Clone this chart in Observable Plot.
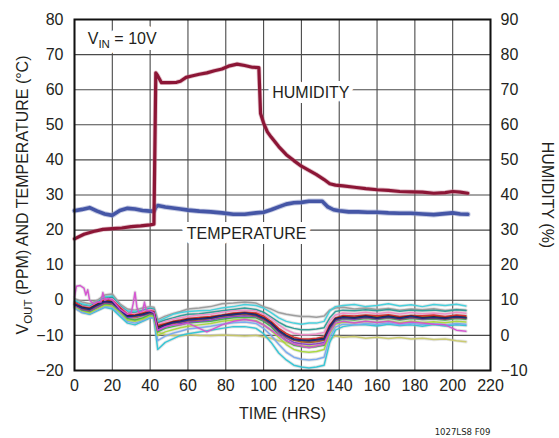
<!DOCTYPE html>
<html>
<head>
<meta charset="utf-8">
<script src="https://cdn.jsdelivr.net/npm/d3@7"></script>
<script src="https://cdn.jsdelivr.net/npm/@observablehq/plot@0.6"></script>
<style>
  html, body { margin: 0; padding: 0; background: #fff; }
  #chart { width: 559px; height: 438px; }
</style>
</head>
<body>
<div id="chart"></div>
<script>
// ---- axis ticks ----
const xTicks = [0, 20, 40, 60, 80, 100, 120, 140, 160, 180, 200, 220];
const yTicks = [-20, -10, 0, 10, 20, 30, 40, 50, 60, 70, 80];
const humidityOffset = 10; // right axis (%) = left axis value + 10

// ---- humidity (%) ----
const humT = [0,5,10,15,20,25,30,35,40,42,43,44,46,50,54,56,59,62,66,70,74,78,82,86,90,94,97.5,98.4,100,102,104,108,112,116,120,124,128,132,135,138,142,148,154,160,166,172,178,184,190,196,200,204,208];
const humV = [27.5,28.8,29.6,30.2,30.4,30.6,31,31.2,31.5,31.7,74.8,74,72,72,72.1,72.4,73.5,73.9,74.4,74.8,75.4,75.9,76.8,77.3,76.9,76.4,76.3,63.2,60.5,58,56.5,53.8,51.5,49.8,48.2,47,45.8,44.4,43.2,42.8,42.6,42.2,41.8,41.5,41.3,41,40.9,40.8,40.5,40.7,41,40.8,40.5];

// ---- temperature (°C) ----
const tempT = [0,4,8,12,16,20,24,28,32,36,40,42,43,44,48,52,56,60,66,72,78,84,90,96,100,104,108,112,116,120,124,128,131,134,137,140,145,150,155,160,166,172,178,184,190,196,200,204,208];
const tempV = [25.5,25.9,26.4,25.4,24.6,24.2,25.6,26.2,26,25.6,25.4,25.4,26.5,27,26.6,26.3,26,25.7,25.4,25.2,24.9,24.5,24.5,24.9,25.1,25.8,26.6,27.4,27.8,27.9,28.2,28.2,28.2,26.6,25.8,25.5,25.2,25.2,25.1,25.1,24.9,24.8,24.8,24.6,24.4,24.7,24.9,24.6,24.5];

// ---- VOUT drift (ppm), individual units ----
const T = [0,4,8,12,16,20,24,28,32,36,40,42,44,48,52,56,60,66,72,78,84,90,96,100,104,108,112,116,120,124,128,132,135,138,142,148,154,160,166,172,178,184,190,196,202,207];
const unitGray   = [0.5,-0.5,-1,0,1.5,1.8,-1,-2.5,-2.8,-2.2,-1.8,-2,-5.5,-4.5,-3.8,-3.2,-2.5,-2.2,-1.8,-1,-0.8,-0.5,-0.8,-1.8,-2.5,-3.5,-4,-4.3,-4.6,-4.6,-4.8,-4.5,-2.8,-2.2,-2,-2.5,-2.2,-2.6,-2.3,-2.8,-2.5,-2.7,-2.4,-2.9,-2.6,-2.8];
const unitCyanHi = [0,-1,-1.5,-0.5,1,1.2,-1.5,-3,-3.2,-2.8,-2.2,-2.5,-6,-5,-4,-3.5,-3.2,-3,-2.8,-2.2,-1.8,-1.2,-1.5,-2.2,-3.5,-5,-6,-6.5,-6.8,-6.5,-6.5,-6,-3,-1.8,-1.5,-1.2,-1.8,-1.5,-1,-1.6,-1.3,-1.8,-1.2,-1.5,-1.1,-1.6];
const unitCyanLo = [-2,-3.5,-4,-3,-2,-2.5,-4.5,-6.5,-7,-6,-5,-5,-14,-12,-11,-10,-9.5,-9,-8.5,-8,-7.5,-7.5,-8,-9.5,-12,-15,-17,-18.5,-19,-19.3,-19,-18.5,-12,-8.5,-7.5,-7,-7,-7.3,-6.8,-7.2,-7,-7.4,-6.9,-7.3,-7,-7.2];
const unitYellow = [-1.5,-2.5,-3,-2,-1,-1.5,-3.5,-5,-5.5,-5,-4,-4,-9,-9.8,-10,-10.2,-9.8,-10,-10.1,-9.9,-10,-10.2,-10,-10.4,-10.8,-11.5,-12,-12.5,-12.8,-13,-12.8,-12.5,-11,-10.2,-10.5,-10.3,-10.8,-10.5,-10.9,-10.6,-11,-10.8,-11.2,-11,-11.5,-11.8];
const unitLtBlue = [-2.2,-3.4,-3.8,-2.8,-1.8,-2,-3.8,-6,-6.5,-5.8,-4.8,-5,-11.5,-10.2,-9.4,-8.8,-8.2,-7.8,-7.4,-6.8,-6.4,-6.2,-6.6,-8,-10,-12.5,-14.8,-16.2,-16.8,-17,-16.8,-16.2,-10.5,-7.6,-6.8,-7,-6.6,-6.9,-6.5,-7,-6.6,-6.9,-6.7,-7,-6.6,-6.8];
const unitLime   = [-1.8,-3,-3.6,-2.4,-1.4,-1.6,-3.4,-5.6,-6,-5.4,-4.4,-4.6,-10,-9,-8.4,-7.8,-7.4,-7,-6.6,-6,-5.6,-5.4,-5.8,-7,-8.6,-10.6,-12.6,-14,-14.6,-14.8,-14.6,-14,-9.4,-6.8,-6.2,-6.4,-6,-6.3,-5.9,-6.4,-6,-6.3,-6.1,-6.4,-6,-6.2];
const unitTeal   = [-0.4,-1.4,-1.8,-0.6,0.6,0.8,-1.6,-3.4,-3.6,-3,-2.4,-2.6,-6.4,-5.6,-5,-4.4,-4,-3.8,-3.4,-3,-2.6,-2.2,-2.6,-3.4,-4.8,-6.2,-7.4,-8,-8.4,-8.4,-8.2,-7.8,-5,-3.2,-2.8,-3,-2.7,-3,-2.6,-3.1,-2.8,-3,-2.8,-3.1,-2.7,-2.9];
const unitPink   = [-0.6,-1.6,-2,-0.8,0.4,0.4,-1.8,-3.6,-3.8,-3.2,-2.6,-2.8,-6.8,-6,-5.4,-5,-4.6,-4.2,-4,-3.4,-3,-2.8,-3,-4,-5.2,-7,-8.4,-9.4,-9.8,-9.8,-9.6,-9.2,-6,-4.2,-3.6,-3.8,-3.4,-3.8,-3.4,-3.9,-3.5,-3.8,-3.6,-3.9,-3.4,-3.7];
const unitGreen  = [-1.2,-2.8,-3.2,-2,-1,-1.2,-3,-5.2,-5.6,-5,-4,-4.2,-9,-8,-7.5,-7,-6.5,-6.2,-6,-5.4,-5,-4.8,-5,-6,-7.5,-9.8,-11.5,-12.8,-13.2,-13.4,-13.2,-12.8,-8.5,-6,-5.4,-5.6,-5.2,-5.5,-5.1,-5.6,-5.2,-5.5,-5.3,-5.6,-5.2,-5.4];
const unitPurple = [-1.5,-2.6,-3,-2,-0.8,-1,-2.8,-4.8,-5,-4.4,-3.8,-3.8,-8.6,-7.6,-7,-6.6,-6.2,-6,-5.6,-5,-4.6,-4.4,-4.6,-5.6,-7,-9.2,-10.8,-12,-12.4,-12.6,-12.4,-12,-8,-5.8,-5.2,-5.4,-5,-5.3,-4.9,-5.4,-5,-5.3,-5.1,-5.4,-5,-5.2];
const unitOrange = [-0.8,-2,-2.4,-1.2,0,-0.2,-2.2,-4.2,-4.8,-4,-3.2,-3.4,-7.8,-6.8,-6.2,-5.8,-5.4,-5,-4.8,-4.4,-4,-3.6,-3.8,-4.8,-6.4,-8.4,-9.8,-11,-11.8,-11.8,-11.6,-11.2,-7.4,-5.2,-4.6,-4.8,-4.4,-4.7,-4.3,-4.8,-4.4,-4.7,-4.5,-4.9,-4.4,-4.6];
const unitBrown  = [-1,-2.4,-2.8,-1.6,-0.6,-0.8,-2.4,-4.4,-4.6,-4.2,-3.6,-3.6,-8,-7.2,-6.6,-6.2,-5.8,-5.6,-5.2,-4.6,-4.2,-4,-4.4,-5.4,-6.8,-8.8,-10.4,-11.4,-11.8,-12,-11.8,-11.4,-7.8,-5.6,-5,-5.2,-4.8,-5.2,-4.8,-5.3,-4.8,-5.2,-5,-5.3,-4.9,-5.1];
const unitRed    = [-0.5,-1.8,-2.2,-1,0.2,0,-2,-4,-4.2,-3.6,-3,-3.2,-7.2,-6.6,-6,-5.6,-5.2,-4.9,-4.6,-4.2,-3.6,-3.4,-3.6,-4.5,-6,-8,-9.4,-10.5,-11,-11,-10.8,-10.4,-7,-5,-4.3,-4.5,-4.2,-4.4,-4.1,-4.6,-4.3,-4.4,-4.2,-4.6,-4.2,-4.4];
const unitBlack  = [-1.2,-2,-2.4,-1.2,-0.2,-0.4,-2.4,-4.4,-4.3,-3.9,-3.3,-3.4,-7.6,-6.9,-6.2,-5.9,-5.4,-5.2,-4.9,-4.3,-3.9,-3.6,-4,-5,-6.4,-8.5,-10,-11,-11.3,-11.4,-11.2,-10.8,-7.4,-5.2,-4.7,-4.9,-4.5,-4.9,-4.5,-5,-4.5,-4.9,-4.7,-5,-4.6,-4.8];
const unitNavy   = [-1,-2.2,-2.6,-1.4,-0.4,-0.6,-2.6,-4.6,-4.4,-4.1,-3.4,-3.6,-8.2,-7.1,-6.4,-6.1,-5.6,-5.3,-5.1,-4.4,-4.1,-3.7,-4.2,-5.1,-6.6,-8.7,-10.1,-11.2,-11.4,-11.6,-11.3,-11.1,-7.6,-5.4,-4.9,-5.1,-4.7,-5.1,-4.7,-5.2,-4.6,-5.1,-4.9,-5.2,-4.7,-5];
// one unit with its own, denser time samples (spiky start)
const magentaT = [0,1,3,5,6,7,8,10,12,14,15,16,18,20,24,28,30,31,32,33,34,36,37,38,40,42,44,48,52,56,60,66,70,74,78,84,90,96,100,104,108,112,116,120,124,128,132,135,138,142,148,154,160,166,172,178,184,190,196,202,207];
const magentaV = [1,4,4.2,3.5,1.5,3,0,-1,-0.5,-0.5,2.2,0,0.5,0,-2.5,-4,-3.5,-1,2.3,-2,-3.5,-3,-0.5,-3,-3,-3.5,-8.5,-7.5,-7,-7,-6.5,-8,-9,-8,-7,-6,-5.5,-6,-7,-8.5,-10,-11.5,-12.5,-13,-13.5,-13,-12.5,-9,-6.5,-6,-6.5,-6,-6.3,-6,-6.6,-6.2,-6.5,-6.8,-7,-8.5,-8.8];

const unitSeries = [
  ["#c9c96a", unitYellow], ["#2fc4d4", unitCyanLo], ["#9a9a9a", unitGray], ["#3fd0dc", unitCyanHi],
  ["#78a8ee", unitLtBlue], ["#a8d83a", unitLime], ["#2a9a94", unitTeal], ["#f08cc8", unitPink],
  ["#40b048", unitGreen], ["#8a3cc8", unitPurple], ["#f09020", unitOrange], ["#9a5a2a", unitBrown],
  ["#d8282c", unitRed], ["#262626", unitBlack], ["#1e2a86", unitNavy]
];

// ---- annotations ----
const labels = [
  {x: 125, y: 59, text: "HUMIDITY"},
  {x: 91, y: 19, text: "TEMPERATURE"}
];
const vinLabel = [{x: 7, y: 74.6, text: "VIN = 10V"}];

// ---- build tables ----
const units = [];
unitSeries.forEach(([color, vals], k) => {
  vals.forEach((v, i) => { if (i < T.length) units.push({t: T[i], v, s: "u" + k, c: color}); });
});
magentaT.forEach((t, i) => units.push({t, v: magentaV[i], s: "mag", c: "#d450d0"}));
const hum = humT.map((t, i) => ({t, v: humV[i] - humidityOffset}));
const temp = tempT.map((t, i) => ({t, v: tempV[i]}));

const font = "'Liberation Sans', Arial, Helvetica, sans-serif";
const ink = "#231f20";
const gridColor = "#4a4a4a";

const plot = Plot.plot({
  width: 559,
  height: 438,
  marginLeft: 74,
  marginRight: 69,
  marginTop: 19,
  marginBottom: 68,
  style: {fontFamily: font, fontSize: "16px", color: ink, background: "#fff"},
  x: {domain: [0, 220]},
  y: {domain: [-20, 80]},
  color: {type: "identity"},
  marks: [
    Plot.gridX(xTicks, {stroke: gridColor, strokeOpacity: 1, strokeWidth: 1.1}),
    Plot.gridY(yTicks, {stroke: gridColor, strokeOpacity: 1, strokeWidth: 1.1}),
    Plot.line(units, {x: "t", y: "v", z: "s", stroke: "#b8b8b8", strokeWidth: 3.4, strokeOpacity: 0.35}),
    Plot.line(units, {x: "t", y: "v", z: "s", stroke: "c", strokeWidth: 1.5, strokeOpacity: 0.95}),
    Plot.line(temp, {x: "t", y: "v", stroke: "#8d98c8", strokeWidth: 5.5, strokeOpacity: 0.5}),
    Plot.line(temp, {x: "t", y: "v", stroke: "#4556a6", strokeWidth: 3.6}),
    Plot.line(hum, {x: "t", y: "v", stroke: "#c07a8e", strokeWidth: 4.8, strokeOpacity: 0.45}),
    Plot.line(hum, {x: "t", y: "v", stroke: "#8c1636", strokeWidth: 3.2}),
    // white knock-out behind labels, then the labels themselves
    Plot.text(labels, {x: "x", y: "y", text: "text", fill: "white", stroke: "white", strokeWidth: 10, fontSize: 16, textAnchor: "middle", lineAnchor: "middle"}),
    Plot.text(labels, {x: "x", y: "y", text: "text", fill: ink, fontSize: 16, textAnchor: "middle", lineAnchor: "middle"}),
    Plot.text(vinLabel, {x: "x", y: "y", text: "text", fill: "white", stroke: "white", strokeWidth: 12, fontSize: 16, textAnchor: "start", lineAnchor: "middle"}),
    Plot.text(vinLabel, {x: "x", y: "y", text: "text", fill: ink, fontSize: 16, textAnchor: "start", lineAnchor: "middle"}),
    Plot.frame({stroke: "#111", strokeWidth: 2}),
    Plot.axisX(xTicks, {tickSize: 0, tickPadding: 9, label: null, fontSize: 16, fill: ink}),
    Plot.axisY(yTicks, {anchor: "left", tickSize: 0, tickPadding: 11, label: null, fontSize: 16, fill: ink}),
    Plot.axisY(yTicks, {anchor: "right", tickSize: 0, tickPadding: 10, label: null, fontSize: 16, fill: ink,
      tickFormat: d => { const v = d + humidityOffset; return v < 0 ? "\u2212" + Math.abs(v) : String(v); }}),
    Plot.text(["VOUT (PPM) AND TEMPERATURE (°C)"], {frameAnchor: "left", dx: -52, rotate: -90, text: d => d, fontSize: 16, fill: ink, textAnchor: "middle", lineAnchor: "middle"}),
    Plot.text(["HUMIDITY (%)"], {frameAnchor: "right", dx: 57, rotate: 90, text: d => d, fontSize: 16, fill: ink, textAnchor: "middle", lineAnchor: "middle"}),
    Plot.text(["TIME (HRS)"], {frameAnchor: "bottom", dy: 43, text: d => d, fontSize: 16, fill: ink, textAnchor: "middle", lineAnchor: "middle"}),
    Plot.text(["1027LS8 F09"], {frameAnchor: "bottom-right", dy: 61, text: d => d, fontSize: 9.5, fill: ink, textAnchor: "end", lineAnchor: "middle",
      fontFamily: "'Liberation Sans Narrow', 'DejaVu Sans Condensed', Arial, sans-serif"})
  ]
});

// subscripts (V_IN, V_OUT)
function subscript(svg, full, pre, sub, post) {
  d3.select(svg).selectAll("text").each(function () {
    if (this.textContent === full) {
      const el = d3.select(this);
      el.text(null);
      el.append("tspan").text(pre);
      el.append("tspan").attr("font-size", 11.5).attr("dy", 4).text(sub);
      el.append("tspan").attr("dy", -4).text(post);
    }
  });
}
subscript(plot, "VIN = 10V", "V", "IN", " = 10V");
subscript(plot, "VOUT (PPM) AND TEMPERATURE (°C)", "V", "OUT", " (PPM) AND TEMPERATURE (°C)");

document.getElementById("chart").appendChild(plot);
</script>
</body>
</html>
